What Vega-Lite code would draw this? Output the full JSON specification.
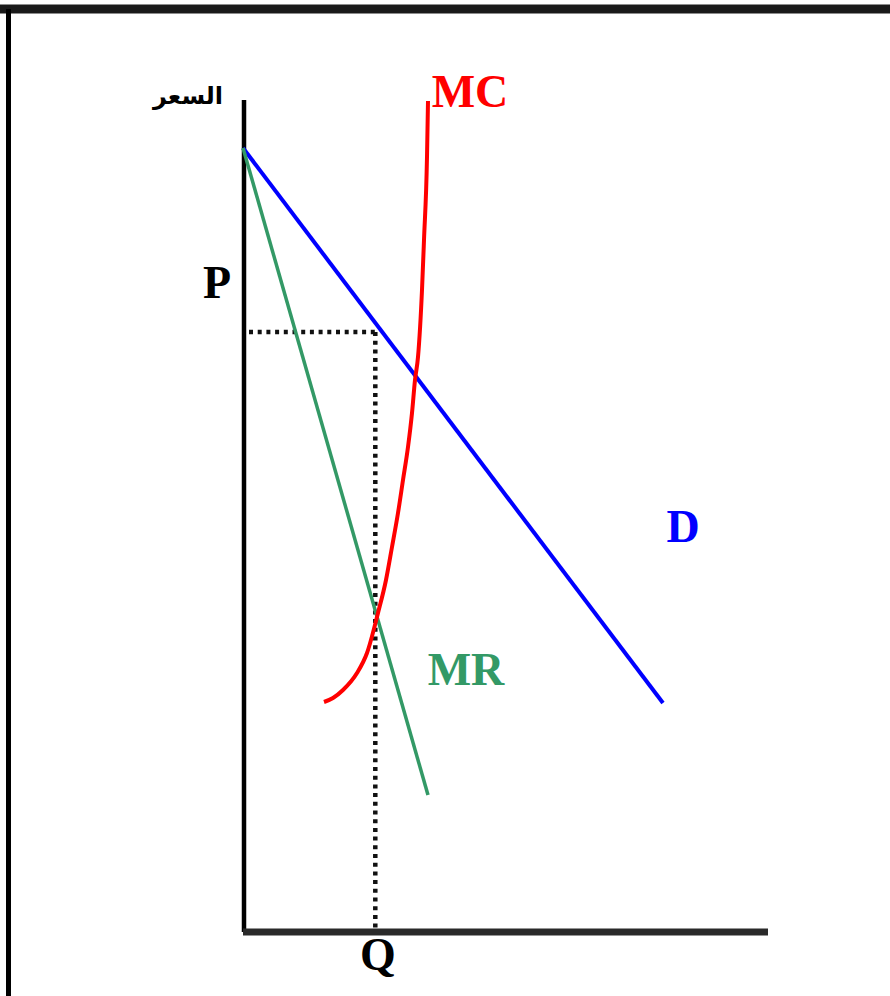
{
  "$schema": "https://vega.github.io/schema/vega-lite/v6.json",
  "width": 890,
  "height": 996,
  "autosize": "none",
  "padding": 0,
  "background": "white",
  "config": {"view": {"stroke": null}},
  "encoding": {
    "x": {"field": "x", "type": "quantitative", "scale": {"domain": [-24.3, 64.7], "nice": false, "zero": false}, "axis": null},
    "y": {"field": "y", "type": "quantitative", "scale": {"domain": [-6.4, 93.2], "nice": false, "zero": false}, "axis": null}
  },
  "layer": [
    {
      "data": {"values": [{"x": -24.3, "x2": 64.7, "y": 92.3, "y2": 92.3}]},
      "mark": {"type": "rule", "color": "#1a1a1a", "strokeWidth": 9},
      "encoding": {"x2": {"field": "x2"}, "y2": {"field": "y2"}}
    },
    {
      "data": {"values": [{"x": -23.45, "x2": -23.45, "y": 92.3, "y2": -6.4}]},
      "mark": {"type": "rule", "color": "#000000", "strokeWidth": 5},
      "encoding": {"x2": {"field": "x2"}, "y2": {"field": "y2"}}
    },
    {
      "data": {"values": [{"x": 0.1, "x2": 0.1, "y": 83.2, "y2": 0}]},
      "mark": {"type": "rule", "color": "#000000", "strokeWidth": 4.5},
      "encoding": {"x2": {"field": "x2"}, "y2": {"field": "y2"}}
    },
    {
      "data": {"values": [{"x": 0, "x2": 52.5, "y": 0, "y2": 0}]},
      "mark": {"type": "rule", "color": "#2a2a2a", "strokeWidth": 7},
      "encoding": {"x2": {"field": "x2"}, "y2": {"field": "y2"}}
    },
    {
      "data": {"values": [
        {"x": 0.6, "x2": 13.23, "y": 60, "y2": 60},
        {"x": 13.23, "x2": 13.23, "y": 60, "y2": 0}
      ]},
      "mark": {"type": "rule", "color": "#111111", "strokeWidth": 4.5, "strokeDash": [4, 4.7]},
      "encoding": {"x2": {"field": "x2"}, "y2": {"field": "y2"}}
    },
    {
      "data": {"values": [{"x": 0, "y": 78.4}, {"x": 42, "y": 22.9}]},
      "mark": {"type": "line", "color": "#0000ff", "strokeWidth": 4}
    },
    {
      "data": {"values": [{"x": 0, "y": 78.4}, {"x": 18.5, "y": 13.7}]},
      "mark": {"type": "line", "color": "#339966", "strokeWidth": 3.5}
    },
    {
      "data": {"values": [
        {"x": 8.1, "y": 23.0},
        {"x": 9.0, "y": 23.4},
        {"x": 10.0, "y": 24.2},
        {"x": 11.4, "y": 25.9},
        {"x": 12.4, "y": 27.9},
        {"x": 13.5, "y": 31.9},
        {"x": 14.3, "y": 35.2},
        {"x": 14.9, "y": 38.5},
        {"x": 15.5, "y": 41.9},
        {"x": 16.0, "y": 45.2},
        {"x": 16.5, "y": 48.5},
        {"x": 16.9, "y": 51.9},
        {"x": 17.2, "y": 55.2},
        {"x": 17.5, "y": 57.5},
        {"x": 17.9, "y": 64.2},
        {"x": 18.1, "y": 69.2},
        {"x": 18.4, "y": 77.5},
        {"x": 18.5, "y": 83.1}
      ]},
      "mark": {"type": "line", "color": "#ff0000", "strokeWidth": 4, "interpolate": "monotone"}
    },
    {
      "data": {"values": [
        {"x": 22.7, "y": 83.9, "label": "MC"},
        {"x": 44.0, "y": 40.4, "label": "D"},
        {"x": 22.3, "y": 26.1, "label": "MR"},
        {"x": -2.6, "y": 64.8, "label": "P"},
        {"x": 13.5, "y": -2.4, "label": "Q"}
      ]},
      "mark": {"type": "text", "font": "Liberation Serif", "fontWeight": "bold", "fontSize": 46, "align": "center", "baseline": "middle"},
      "encoding": {
        "text": {"field": "label"},
        "color": {"field": "label", "type": "nominal", "scale": {"domain": ["MC", "D", "MR", "P", "Q"], "range": ["#ff0000", "#0000ff", "#339966", "#000000", "#000000"]}, "legend": null}
      }
    },
    {
      "data": {"values": [{"x": -5.5, "y": 83.5, "label": "السعر"}]},
      "mark": {"type": "text", "font": "DejaVu Sans", "fontWeight": "bold", "fontSize": 24, "align": "center", "baseline": "middle", "color": "#000000"},
      "encoding": {"text": {"field": "label"}}
    }
  ]
}
